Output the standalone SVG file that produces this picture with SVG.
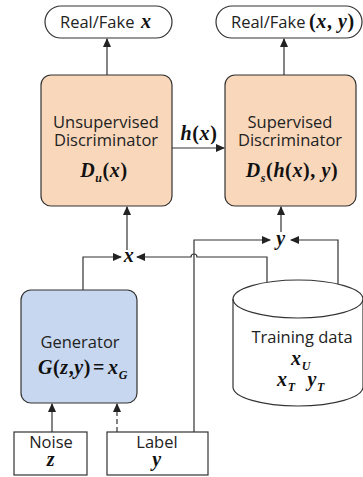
<svg xmlns="http://www.w3.org/2000/svg" width="363" height="477" viewBox="0 0 363 477">
<defs>
<marker id="ah" markerWidth="9" markerHeight="8" refX="8" refY="4" orient="auto" markerUnits="userSpaceOnUse">
<path d="M0,0 L9,4 L0,8 Z" fill="#222"/>
</marker>
</defs>
<style>
.box{stroke:#333;stroke-width:1.2}
.orange{fill:#f9d7bb}
.blue{fill:#c6d7ef}
.white{fill:#fff}
.lbl{font-family:"Open Sans","Noto Sans",sans-serif;font-size:16.5px;fill:#222}
.m{font-family:"Liberation Serif",serif;font-weight:bold;font-style:italic;font-size:20px;letter-spacing:0.6px;fill:#111}
.up{font-style:normal}
.sub{font-size:12px}
.ln{fill:none;stroke:#333;stroke-width:1.2}
</style>
<rect width="363" height="477" fill="#fff"/>

<g id="out-unsup">
<rect class="box white" x="45" y="6" width="127" height="32" rx="16"/>
<text class="lbl" x="60" y="28">Real/Fake</text>
<text class="m" x="141" y="28">x</text>
</g>

<g id="out-sup">
<rect class="box white" x="216" y="6" width="146" height="32" rx="16"/>
<text class="lbl" x="231" y="28">Real/Fake</text>
<text class="m" x="309" y="28"><tspan class="up">(</tspan>x<tspan class="up">,</tspan> y<tspan class="up">)</tspan></text>
</g>

<g id="unsup-disc">
<rect class="box orange" x="41" y="75" width="131" height="131" rx="10"/>
<text class="lbl" x="106" y="128" text-anchor="middle">Unsupervised</text>
<text class="lbl" x="106" y="146" text-anchor="middle">Discriminator</text>
<text class="m" x="104" y="177" text-anchor="middle">D<tspan class="sub" dy="5">u</tspan><tspan class="up" dy="-5">(</tspan>x<tspan class="up">)</tspan></text>
</g>

<g id="sup-disc">
<rect class="box orange" x="225" y="75" width="131" height="131" rx="10"/>
<text class="lbl" x="290" y="128" text-anchor="middle">Supervised</text>
<text class="lbl" x="290" y="146" text-anchor="middle">Discriminator</text>
<text class="m" x="292" y="177" text-anchor="middle">D<tspan class="sub" dy="5">s</tspan><tspan class="up" dy="-5">(</tspan>h<tspan class="up">(</tspan>x<tspan class="up">),</tspan> y<tspan class="up">)</tspan></text>
</g>

<g id="generator">
<rect class="box blue" x="21" y="290" width="116" height="113" rx="10"/>
<text class="lbl" x="80" y="348" text-anchor="middle">Generator</text>
<text class="m" x="83" y="374" text-anchor="middle">G<tspan class="up">(</tspan>z<tspan class="up">,</tspan>y<tspan class="up">)</tspan><tspan class="up" dx="2">=</tspan><tspan dx="3">x</tspan><tspan class="sub" dy="5">G</tspan></text>
</g>

<g id="training-data">
<path class="ln" d="M233,299 L233,387 A65,19 0 0 0 363,387 L363,299" fill="#fff"/>
<ellipse class="ln" cx="298" cy="299" rx="65" ry="19" fill="#fff"/>
<text class="lbl" x="302" y="343" text-anchor="middle">Training data</text>
<text class="m" x="301" y="365" text-anchor="middle">x<tspan class="sub" dy="5">U</tspan></text>
<text class="m" x="301" y="386" text-anchor="middle">x<tspan class="sub" dy="5">T</tspan><tspan dy="-5" dx="12">y</tspan><tspan class="sub" dy="5">T</tspan></text>
</g>

<g id="noise">
<rect class="box white" x="14" y="432" width="73" height="43"/>
<text class="lbl" x="51" y="448" text-anchor="middle">Noise</text>
<text class="m" x="51" y="466" text-anchor="middle">z</text>
</g>

<g id="label">
<rect class="box white" x="107" y="432" width="101" height="43"/>
<text class="lbl" x="157" y="448" text-anchor="middle">Label</text>
<text class="m" x="157" y="466" text-anchor="middle">y</text>
</g>

<g id="x-node">
<text class="m" x="129" y="262" text-anchor="middle">x</text>
</g>
<g id="y-node">
<text class="m" x="281" y="245" text-anchor="middle">y</text>
</g>

<g id="connectors">
<line class="ln" x1="107" y1="75" x2="107" y2="39" marker-end="url(#ah)"/>
<line class="ln" x1="284" y1="75" x2="284" y2="39" marker-end="url(#ah)"/>
<line class="ln" x1="172" y1="148" x2="224" y2="148" marker-end="url(#ah)"/>
<text class="m" x="199" y="140" text-anchor="middle">h<tspan class="up">(</tspan>x<tspan class="up">)</tspan></text>
<line class="ln" x1="127" y1="250" x2="127" y2="207" marker-end="url(#ah)"/>
<line class="ln" x1="281" y1="232" x2="281" y2="207" marker-end="url(#ah)"/>
<polyline class="ln" points="83,290 83,257 121,257" marker-end="url(#ah)"/>
<path class="ln" d="M267,282 L267,257 L197,257 A3,3 0 0 0 191,257 L137,257" marker-end="url(#ah)"/>
<polyline class="ln" points="194,432 194,240 270,240" marker-end="url(#ah)"/>
<polyline class="ln" points="338,284 338,240 291,240" marker-end="url(#ah)"/>
<line class="ln" x1="52" y1="432" x2="52" y2="404" marker-end="url(#ah)"/>
<line class="ln" x1="117" y1="432" x2="117" y2="404" stroke-dasharray="5,3" marker-end="url(#ah)"/>
</g>
</svg>
